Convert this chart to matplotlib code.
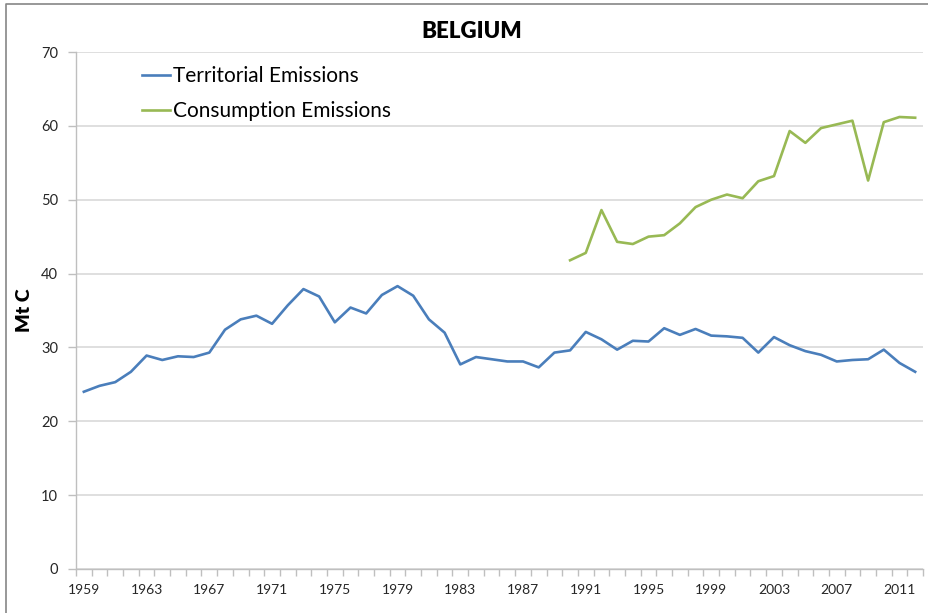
import matplotlib
matplotlib.use("Agg")
import matplotlib.pyplot as plt
from matplotlib.lines import Line2D

plt.rcParams['font.family'] = ['Lato', 'DejaVu Sans']

years = list(range(1959, 2013))
territorial = [24.0, 24.8, 25.3, 26.7, 28.9, 28.3, 28.8, 28.7, 29.3, 32.4,
               33.8, 34.3, 33.2, 35.7, 37.9, 36.9, 33.4, 35.4, 34.6, 37.1,
               38.3, 37.0, 33.8, 32.0, 27.7, 28.7, 28.4, 28.1, 28.1, 27.3,
               29.3, 29.6, 32.1, 31.1, 29.7, 30.9, 30.8, 32.6, 31.7, 32.5,
               31.6, 31.5, 31.3, 29.3, 31.4, 30.3, 29.5, 29.0, 28.1, 28.3,
               28.4, 29.7, 27.9, 26.7]
cons_years = list(range(1990, 2013))
consumption = [41.8, 42.8, 48.6, 44.3, 44.0, 45.0, 45.2, 46.8, 49.0, 50.0,
               50.7, 50.2, 52.5, 53.2, 59.3, 57.7, 59.7, 60.2, 60.7, 52.6,
               60.5, 61.2, 61.1]
label_years = list(range(1959, 2013, 4))
y_ticks = list(range(0, 80, 10))

W, H = 929, 613
fig = plt.figure(figsize=(W / 100, H / 100), dpi=100)
ax = fig.add_axes([76 / W, (H - 569) / H, (923 - 76) / W, (569 - 52) / H])

ax.plot(years, territorial, color='#4A7EBB', lw=1.9, label='Territorial Emissions',
        solid_joinstyle='round')
ax.plot(cons_years, consumption, color='#98B954', lw=1.9, label='Consumption Emissions',
        solid_joinstyle='round')

ax.set_xlim(years[0] - 0.5, years[-1] + 0.5)
ax.set_ylim(0, 70)
ax.set_yticks(y_ticks)
ax.set_xticks(label_years)
ax.set_xticks([y - 0.5 for y in years] + [years[-1] + 0.5], minor=True)
ax.tick_params(axis='x', which='major', length=0, pad=11, labelsize=10, labelcolor='#262626')
ax.tick_params(axis='x', which='minor', length=5, color='#bfbfbf', width=1)
ax.tick_params(axis='y', which='major', length=6, color='#bfbfbf', width=1, pad=7,
               labelsize=10.5, labelcolor='#262626')

ax.grid(axis='y', color='#d9d9d9', lw=1.2)
ax.set_axisbelow(True)
for s in ['top', 'right']:
    ax.spines[s].set_visible(False)
for s in ['left', 'bottom']:
    ax.spines[s].set_color('#bfbfbf')
    ax.spines[s].set_linewidth(1)

ax.set_ylabel('Mt C', fontsize=14, fontweight='heavy')
ax.yaxis.set_label_coords(-(76 - 33) / (923 - 76), 0.5)

leg = ax.legend(loc='upper left', bbox_to_anchor=((134 - 76) / (923 - 76), 1 - (58 - 52) / (569 - 52)),
                frameon=False, fontsize=15, handlelength=1.35, handletextpad=0.1,
                labelspacing=0.7, borderaxespad=0)

fig.text(472 / W, 1 - 31 / H, 'BELGIUM', ha='center', va='center', fontsize=16,
         fontweight='heavy')

fig.add_artist(Line2D([6 / W, 6 / W, 1], [0, 1 - 4 / H, 1 - 4 / H],
                      transform=fig.transFigure, color='#868686', lw=1.2))

fig.savefig('out.png', dpi=100)
